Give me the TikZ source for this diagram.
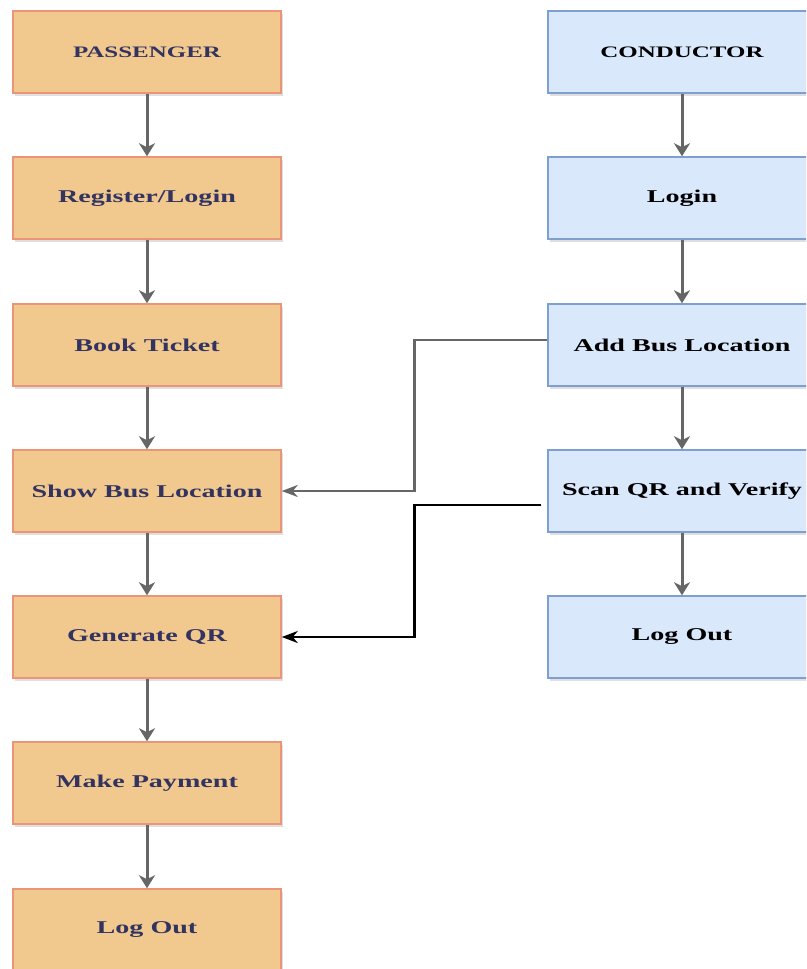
\documentclass[tikz,border=0pt]{standalone}
\usepackage{fontspec}
\setmainfont{Liberation Serif}
\usetikzlibrary{arrows.meta,shadows,calc}
\definecolor{pfill}{HTML}{F1C98F}
\definecolor{pdraw}{HTML}{EA9478}
\definecolor{cfill}{HTML}{DAE8FC}
\definecolor{cdraw}{HTML}{7E9FCF}
\definecolor{ptext}{HTML}{333360}
\definecolor{arrgray}{HTML}{666666}
\newcommand{\wtxt}[2]{\scalebox{1.56}[1]{\fontsize{#1}{#1}\selectfont\bfseries #2}}
\tikzset{
  box/.style={rectangle, minimum width=268pt, minimum height=82pt, line width=1.5pt, inner sep=0pt,
    drop shadow={shadow xshift=2pt, shadow yshift=-3pt, opacity=0.25, fill=gray}},
  pbox/.style={box, fill=pfill, draw=pdraw, text=ptext},
  cbox/.style={box, fill=cfill, draw=cdraw, text=black},
  flow/.style={draw=arrgray, line width=3pt, -{Stealth[length=13pt,width=16pt,inset=4pt]}},
  link/.style={draw=arrgray, line width=2.4pt, -{Stealth[length=16pt,width=12pt,inset=5pt]}},
  linkb/.style={draw=black, line width=2.6pt, -{Stealth[length=16pt,width=12pt,inset=5pt]}},
}
\begin{document}
\begin{tikzpicture}[x=1pt,y=-1pt]
\useasboundingbox (0,0) rectangle (806,969);
\fill[white] (0,0) rectangle (806,969);
\clip (0,0) rectangle (806,969);
% passenger column
\node[pbox] (p1) at (147,52) {\wtxt{16}{PASSENGER}};
\node[pbox] (p2) at (147,198) {\wtxt{18}{Register/Login}};
\node[pbox] (p3) at (147,345) {\wtxt{18}{Book Ticket}};
\node[pbox] (p4) at (147,491) {\wtxt{18}{Show Bus Location}};
\node[pbox] (p5) at (147,637) {\wtxt{18}{Generate QR}};
\node[pbox] (p6) at (147,783) {\wtxt{18}{Make Payment}};
\node[pbox] (p7) at (147,930) {\wtxt{18}{Log Out}};
% conductor column
\node[cbox] (c1) at (682,52) {\wtxt{16}{CONDUCTOR}};
\node[cbox] (c2) at (682,198) {\wtxt{18}{Login}};
\node[cbox] (c3) at (682,345) {\wtxt{18}{Add Bus Location}};
\node[cbox] (c4) at (682,491) {\wtxt{18}{Scan QR and Verify}};
\node[cbox] (c5) at (682,637) {\wtxt{18}{Log Out}};
% vertical flows
\foreach \a/\b in {p1/p2,p2/p3,p3/p4,p4/p5,p5/p6,p6/p7,c1/c2,c2/c3,c3/c4,c4/c5}
  \draw[flow] (\a.south) -- (\b.north);
% cross links
\coordinate (m1) at ($(p4.east)!0.5!(c3.west)$);
\draw[link] ([yshift=5pt]c3.west) -| (m1) |- (p4.east);
\coordinate (m2) at ($(p5.east)!0.5!(c4.west)$);
\draw[linkb] ([xshift=-6pt,yshift=-14pt]c4.west) -| (m2) |- (p5.east);
\end{tikzpicture}
\end{document}
